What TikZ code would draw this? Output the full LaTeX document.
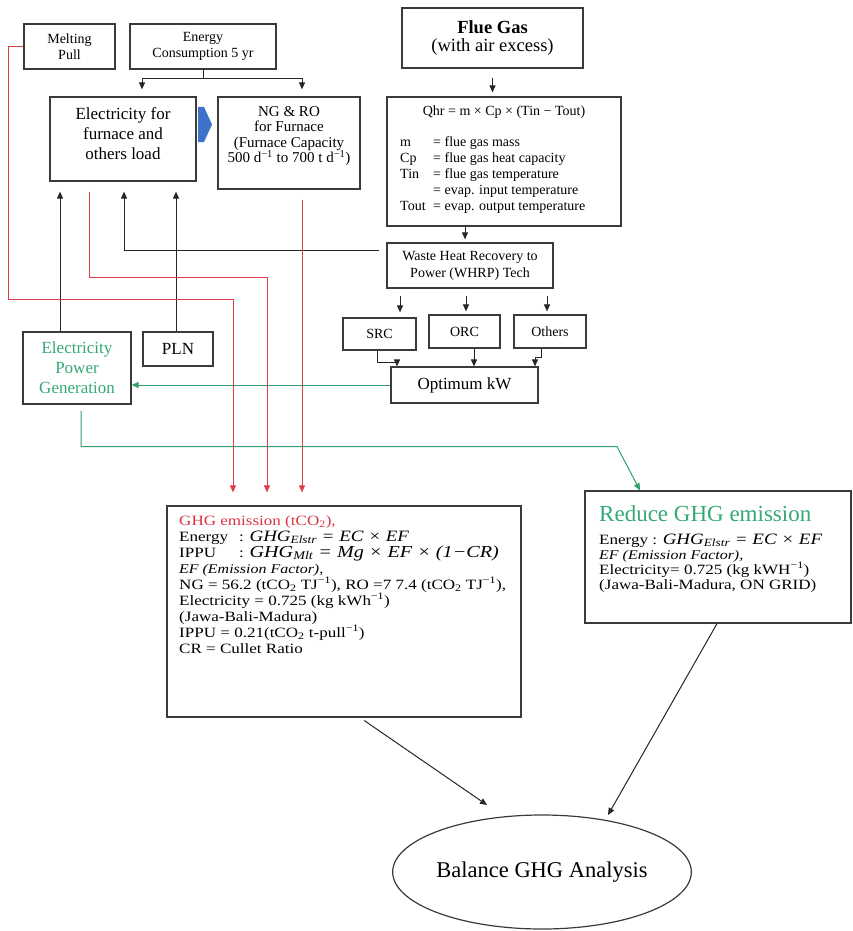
\documentclass[tikz,border=0pt]{standalone}
\usepackage{fontspec}
\setmainfont{Liberation Serif}
\newfontfamily\widefont{Liberation Serif}[FakeStretch=1.2]
\usetikzlibrary{arrows.meta,calc,shapes.geometric}
\definecolor{redl}{HTML}{E23B4C}
\definecolor{redt}{HTML}{D8343F}
\definecolor{greenl}{HTML}{2FA06E}
\definecolor{gtext}{HTML}{34A875}
\definecolor{bluea}{HTML}{3D72C8}
\definecolor{boxc}{HTML}{3A3A3A}
\newcommand\myfs[2]{\fontsize{#1}{#2}\selectfont\lineskiplimit=-40pt\lineskip=0pt}
\tikzset{
  box/.style={draw=boxc, line width=1.2pt, inner sep=0pt, align=center, text=black},
  txt/.style={inner sep=0pt, align=left},
  arr/.style={-{Triangle[length=7pt,width=6pt]}, line width=1pt, draw=black!85},
  rarr/.style={-{Triangle[length=7pt,width=6pt]}, line width=1pt, draw=redl},
  garr/.style={-{Triangle[length=7pt,width=6pt]}, line width=1pt, draw=greenl},
}
\begin{document}
\begin{tikzpicture}[x=1pt,y=-1pt]
\useasboundingbox (0,0) rectangle (853,931);
% top row
\node[box, minimum width=91pt, minimum height=45pt, font={\myfs{14}{16}}] (melt) at (69.5,46.5) {Melting\\Pull};
\node[box, minimum width=146pt, minimum height=45pt, font={\myfs{14}{16}}] (energy) at (203,46.5) {Energy\\Consumption 5 yr};
\node[box, minimum width=146pt, minimum height=84pt] (elec) at (123,139) {};
\node[txt, align=center, font={\myfs{17}{20}}] (elect) at (123,134) {Electricity for\\furnace and\\others load};
\node[box, minimum width=142pt, minimum height=92pt] (ngro) at (289,143) {};
\node[txt, align=center, font={\myfs{15}{15.3}}] (ngrot) at (289,136) {NG \& RO\\for Furnace\\(Furnace Capacity\\500 d\textsuperscript{−1} to 700 t d\textsuperscript{−1})};
\fill[bluea] (198,107) -- (204,107) -- (212,124.5) -- (204,142) -- (198,142) -- cycle;
\node[box, minimum width=181pt, minimum height=60pt, font={\myfs{18.5}{18.5}}] (flue) at (492.5,38) {\bfseries Flue Gas\\(with air excess)};
% Qhr box
\node[box, minimum width=234pt, minimum height=129pt] (qhr) at (504,161.5) {};
\node[txt, font={\myfs{14}{16}}] (qhrt) at (504,112) {Qhr = m × Cp × (Tin − Tout)};
\node[txt, anchor=north west, font={\myfs{14}{16}}] (qhrd) at (400,136) {\makebox[33pt][l]{m}= flue gas mass\\\makebox[33pt][l]{Cp}= flue gas heat capacity\\\makebox[33pt][l]{Tin}= flue gas temperature\\\makebox[33pt][l]{}= evap. input temperature\\\makebox[33pt][l]{Tout}= evap. output temperature};
% WHRP and techs
\node[box, minimum width=166pt, minimum height=45pt, font={\myfs{14}{17}}] (whrp) at (470,265.5) {Waste Heat Recovery to\\Power (WHRP) Tech};
\node[box, minimum width=73pt, minimum height=32pt, font={\myfs{14}{16}}] (src) at (379.5,334) {SRC};
\node[box, minimum width=71pt, minimum height=33pt, font={\myfs{14}{16}}] (orc) at (464.5,331.5) {ORC};
\node[box, minimum width=72pt, minimum height=33pt, font={\myfs{14}{16}}] (others) at (550,331.5) {Others};
\node[box, minimum width=147pt, minimum height=36pt, font={\myfs{17}{19}}] (opt) at (464.5,385) {Optimum kW};
\node[box, minimum width=108pt, minimum height=72pt, font={\myfs{17}{20}}, text=gtext] (epg) at (77,368) {Electricity\\Power\\Generation};
\node[box, minimum width=70pt, minimum height=34pt, font={\myfs{17}{19}}] (pln) at (178,349) {PLN};
% GHG emission box
\node[box, minimum width=354pt, minimum height=211pt] (ghg) at (344,611.5) {};
\node[txt, anchor=north west, font={\widefont\myfs{14.2}{16}}] (ghgt) at (179,515) {{\color{redt}GHG emission (tCO\textsubscript{2}),}\\
\makebox[60pt][l]{Energy}: {\fontsize{15.8}{16}\selectfont\itshape GHG\textsubscript{Elstr} = EC × EF}\\
\makebox[60pt][l]{IPPU}: {\fontsize{16.8}{16}\selectfont\itshape GHG\textsubscript{Mlt} = Mg × EF × (1−CR)}\\
{\fontsize{13.3}{16}\selectfont\itshape EF (Emission Factor),}\\
NG = 56.2 (tCO\textsubscript{2} TJ\textsuperscript{−1}), RO =7 7.4 (tCO\textsubscript{2} TJ\textsuperscript{−1}),\\
Electricity = 0.725 (kg kWh\textsuperscript{−1})\\
(Jawa-Bali-Madura)\\
IPPU = 0.21(tCO\textsubscript{2} t-pull\textsuperscript{−1})\\
CR = Cullet Ratio};
% Reduce box
\node[box, minimum width=266pt, minimum height=132pt] (reduce) at (718,557) {};
\node[txt, anchor=north west, font={\widefont\myfs{14.2}{15}}] (reducet) at (599,505) {{\rmfamily\fontsize{23}{15}\selectfont\color{gtext}Reduce GHG emission}\\[8pt]
Energy : {\fontsize{15.8}{15}\selectfont\itshape GHG\textsubscript{Elstr} = EC × EF}\\
{\fontsize{13.3}{15}\selectfont\itshape EF (Emission Factor),}\\
Electricity= 0.725 (kg kWH\textsuperscript{−1})\\
(Jawa-Bali-Madura, ON GRID)};
% Balance ellipse
\node[draw=boxc, line width=1.2pt, ellipse, minimum width=284pt, minimum height=114pt, inner sep=0pt, font={\myfs{22.5}{26}}] (bal) at (542,872) {Balance GHG Analysis};
\coordinate (b1) at (487,805);
\coordinate (b2) at (608,815);
% connectors
\draw[line width=1pt, draw=black!85] (energy.south) -- ++(0,9) coordinate (ej);
\draw[arr, shorten >=7pt] (ej) -| (elec.north -| 142,0);
\draw[arr, shorten >=7pt] (ej) -| (ngro.north -| 302,0);
\draw[arr, shorten <=9pt, shorten >=4pt] (flue.south) -- (qhr.north -| flue.south);
\draw[arr, shorten >=3pt] (qhr.south -| 465,0) -- (whrp.north -| 465,0);
\draw[arr, shorten <=7pt, shorten >=10pt] (whrp.west |- 0,250) -| (elec.south -| 124,0);
\draw[arr, shorten >=10pt] (epg.north -| 60,0) -- (elec.south -| 60,0);
\draw[arr, shorten >=10pt] (pln.north -| 176,0) -- (elec.south -| 176,0);
\draw[arr, shorten <=7pt, shorten >=5pt] (whrp.south -| 400,0) -- (src.north -| 400,0);
\draw[arr, shorten <=7pt, shorten >=3pt] (whrp.south -| 466,0) -- (orc.north -| 466,0);
\draw[arr, shorten <=7pt, shorten >=3pt] (whrp.south -| 547,0) -- (others.north -| 547,0);
\draw[arr] (src.south -| 377,0) -- ++(0,12) -| (opt.north -| 397,0);
\draw[arr] (orc.south -| 474,0) -- (opt.north -| 474,0);
\draw[arr] (others.south -| 541,0) -- ++(0,9) -| (opt.north -| 535,0);
\draw[garr] (opt.west |- 0,385) -- (epg.east |- 0,385);
\draw[garr, shorten <=6pt] (epg.south -| 81,0) -- ++(0,42) -- ++(536,0) -- (reduce.north -| 640,0);
\draw[rarr, shorten >=13pt] (melt.west) -- ++(-15,0) -- ++(0,253) -| (ghg.north -| 233,0);
\draw[rarr, shorten <=10pt, shorten >=13pt] (elec.south -| 89,0) -- ++(0,96) -| (ghg.north -| 267,0);
\draw[rarr, shorten <=10pt, shorten >=13pt] (ngro.south -| 302,0) -- (ghg.north -| 302,0);
\draw[arr, shorten <=5pt] (ghg.south -| 360,0) -- (b1);
\draw[arr] (reduce.south -| 717,0) -- (b2);
\end{tikzpicture}
\end{document}
